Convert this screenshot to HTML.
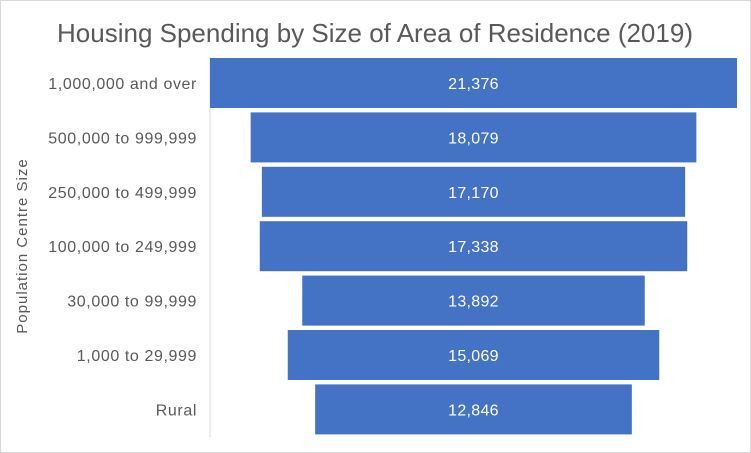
<!DOCTYPE html>
<html><head><meta charset="utf-8"><style>
html,body{margin:0;padding:0;background:#fff;}
svg{display:block;font-family:"Liberation Sans",sans-serif;}
</style></head><body>
<svg id="chart" width="751" height="453" xmlns="http://www.w3.org/2000/svg">
<rect x="0.5" y="0.5" width="750" height="452" fill="#fff" stroke="#d9d9d9"/>
<text x="375" y="42" text-anchor="middle" font-size="26" letter-spacing="0" fill="#595959">Housing Spending by Size of Area of Residence (2019)</text>
<text transform="translate(27,246) rotate(-90)" text-anchor="middle" font-size="15" letter-spacing="1" fill="#595959">Population Centre Size</text>
<line x1="210" y1="57" x2="210" y2="437" stroke="#d9d9d9"/>
<g id="bars"></g>
</svg>
<script>
const categories = ["1,000,000 and over","500,000 to 999,999","250,000 to 499,999","100,000 to 249,999","30,000 to 99,999","1,000 to 29,999","Rural"];
const values = [21376,18079,17170,17338,13892,15069,12846];
const labels = ["21,376","18,079","17,170","17,338","13,892","15,069","12,846"];
const ns="http://www.w3.org/2000/svg";
const g=document.getElementById('bars');
const cx=473.5, scale=527/21376, top0=58, pitch=54.4, bh=50;
function xw(v){return v*scale;}
function yr(i){return top0+i*pitch;}
categories.forEach((c,i)=>{
  const w=xw(values[i]), y=yr(i);
  const r=document.createElementNS(ns,'rect');
  r.setAttribute('x',cx-w/2);r.setAttribute('y',y);r.setAttribute('width',w);r.setAttribute('height',bh);r.setAttribute('fill','#4472C4');
  
  
  g.appendChild(r);
  const t=document.createElementNS(ns,'text');
  t.setAttribute('x',cx);t.setAttribute('y',y+bh/2+6);t.setAttribute('text-anchor','middle');t.setAttribute('font-size','16');t.setAttribute('letter-spacing','0.3');t.setAttribute('fill','#fff');
  t.textContent=labels[i];
  
  
  g.appendChild(t);
  const l=document.createElementNS(ns,'text');
  l.setAttribute('x',197);l.setAttribute('y',y+bh/2+6);l.setAttribute('text-anchor','end');l.setAttribute('font-size','16');l.setAttribute('letter-spacing','0.6');l.setAttribute('fill','#595959');
  l.textContent=c;
  
  
  g.appendChild(l);
});
</script>
</body></html>
